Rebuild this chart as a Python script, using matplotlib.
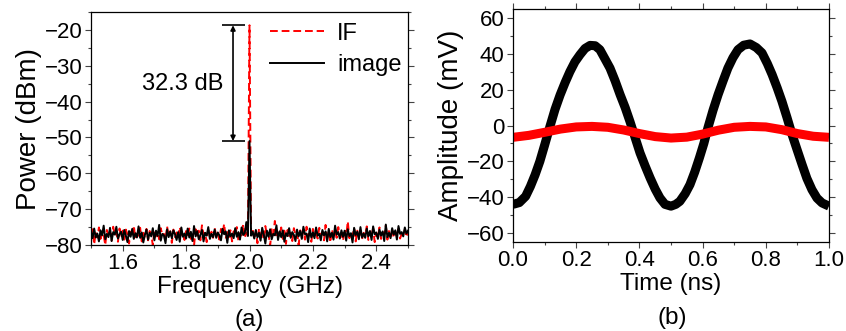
import numpy as np
import matplotlib
matplotlib.use("Agg")
import matplotlib.pyplot as plt
from matplotlib.ticker import MultipleLocator

plt.rcParams['font.family'] = ['Liberation Sans', 'DejaVu Sans']

# ---- (a) spectrum: 1.5-2.5 GHz, 5 MHz steps ----
freq_start, freq_stop = 1.5, 2.5
image_dbm = [
    -76.2, -78.1, -75.4, -77.9, -76.8, -79.0, -75.9, -77.3, -74.6, -78.4, -76.9, -77.8, -75.2, -78.9, -76.4, -77.1, -74.9, -78.2, -77.0, -76.3,
    -78.6, -75.8, -77.4, -79.2, -76.1, -77.7, -75.5, -78.3, -76.7, -77.9, -74.8, -78.0, -76.5, -79.3, -77.2, -75.7, -78.5, -76.6, -77.6, -75.3,
    -78.7, -76.0, -77.5, -74.4, -78.8, -76.9, -77.3, -79.5, -75.6, -77.8, -76.2, -78.1, -75.9, -77.0, -78.6, -76.4, -79.1, -75.1, -77.7, -76.8,
    -78.2, -75.4, -77.9, -76.3, -78.9, -74.7, -77.6, -76.1, -78.4, -77.2, -75.8, -79.0, -76.6, -77.4, -75.0, -78.3, -76.9, -77.8, -75.7, -78.0,
    -76.5, -77.3, -78.7, -75.5, -77.0, -76.2, -79.4, -75.9, -77.6, -76.8, -78.1, -75.3, -77.7, -76.4, -78.5, -75.1, -77.2, -76.7, -73.6, -77.5,
    -51.0,
    -77.4, -76.3, -78.2, -75.8, -77.9, -76.6, -78.8, -75.2, -77.1, -79.6, -76.0, -77.7, -75.6, -78.4, -76.9, -77.3, -74.5, -78.6, -76.2, -77.8,
    -75.9, -79.1, -76.7, -77.5, -75.3, -78.0, -76.4, -77.2, -78.9, -75.7, -77.6, -76.1, -78.3, -74.9, -77.0, -76.8, -79.2, -75.4, -77.9, -76.5,
    -78.1, -75.1, -77.4, -76.9, -78.7, -75.8, -77.3, -76.2, -79.0, -75.5, -77.8, -76.6, -78.5, -74.6, -77.1, -76.4, -78.2, -75.9, -77.7, -76.0,
    -78.8, -75.6, -77.5, -76.7, -79.3, -75.2, -77.2, -76.3, -78.4, -75.0, -77.9, -76.8, -78.0, -75.4, -77.6, -76.1, -78.6, -74.8, -77.0, -76.5,
    -78.3, -75.7, -77.4, -76.2, -78.9, -74.3, -77.8, -76.6, -78.1, -75.3, -77.1, -75.9, -78.5, -74.7, -76.9, -76.4, -77.6, -75.1, -76.8, -76.0,
]
if_dbm = [
    -77.5, -75.6, -79.8, -76.4, -77.9, -75.1, -78.3, -76.7, -77.2, -80.0, -75.8, -77.6, -76.2, -78.8, -74.9, -77.3, -76.5, -79.1, -75.4, -77.8,
    -76.0, -78.5, -75.7, -77.1, -79.6, -76.3, -77.7, -74.6, -78.2, -76.8, -77.4, -75.2, -79.0, -76.6, -77.9, -75.5, -78.7, -76.1, -77.0, -80.1,
    -75.9, -77.6, -76.4, -78.4, -75.3, -77.2, -76.9, -78.9, -74.8, -77.5, -76.2, -79.4, -75.7, -77.8, -76.5, -78.1, -75.0, -77.3, -76.7, -78.6,
    -76.1, -77.9, -75.4, -78.3, -76.8, -80.2, -75.6, -77.4, -76.0, -78.7, -74.5, -77.1, -76.6, -79.2, -75.8, -77.7, -76.3, -78.0, -75.2, -77.5,
    -76.9, -78.5, -75.5, -77.0, -74.1, -78.2, -76.4, -77.8, -75.9, -79.0, -76.2, -77.3, -75.0, -78.8, -76.7, -77.6, -74.3, -78.1, -76.5, -77.2,
    -18.7,
    -77.0, -75.7, -78.4, -76.3, -79.5, -75.4, -77.9, -76.1, -78.6, -74.7, -77.4, -76.8, -80.3, -75.6, -77.2, -73.3, -78.0, -76.5, -77.7, -75.1,
    -78.3, -76.0, -79.7, -75.8, -77.5, -76.6, -78.9, -75.3, -77.1, -76.4, -80.0, -75.9, -77.8, -76.2, -78.5, -74.9, -77.3, -76.7, -79.1, -75.5,
    -77.6, -76.9, -78.2, -75.2, -77.0, -76.3, -78.7, -74.4, -77.9, -76.5, -79.3, -75.7, -77.4, -76.1, -78.0, -75.0, -77.2, -76.8, -78.8, -75.6,
    -77.7, -73.4, -78.1, -76.4, -77.5, -75.3, -79.0, -76.0, -77.8, -75.9, -78.4, -76.6, -77.1, -74.8, -78.6, -76.2, -77.3, -75.4, -79.2, -76.7,
    -77.9, -75.1, -78.3, -76.5, -77.0, -74.6, -78.5, -76.1, -77.6, -75.8, -78.0, -76.3, -77.4, -75.5, -78.2, -76.9, -77.2, -75.7, -77.8, -76.4,
]
if_peak_dbm = -18.7
image_peak_dbm = -51.0
suppression_label = "32.3 dB"

# ---- (b) time-domain waveforms ----
image_t_ns = [0.0, 0.02, 0.04, 0.055, 0.07, 0.085, 0.1, 0.117, 0.133, 0.149,
              0.165, 0.18, 0.196, 0.212, 0.228, 0.244, 0.26, 0.275, 0.29, 0.307,
              0.323, 0.339, 0.355, 0.37, 0.386, 0.402, 0.418, 0.434, 0.45, 0.465,
              0.481, 0.5, 0.515, 0.528, 0.545, 0.56, 0.575, 0.59, 0.604, 0.617,
              0.633, 0.649, 0.665, 0.68, 0.696, 0.712, 0.73, 0.75, 0.77, 0.788,
              0.805, 0.82, 0.836, 0.851, 0.867, 0.883, 0.899, 0.915, 0.93, 0.946,
              0.962, 0.978, 1.0]
image_mv = [-44, -43, -39.5, -34, -27.5, -20, -11, -0.5, 9, 17,
            24, 30, 35.5, 39.5, 43, 44.7, 44.5, 42.3, 37.5, 32,
            25, 17.2, 10, 2.3, -6.5, -15.3, -22.5, -29.3, -35.5, -40.4,
            -44, -45, -44, -42.3, -38, -33, -26, -18, -10, -1.2,
            8.5, 17.2, 25, 32, 37.8, 42.3, 44.8, 45.5, 43.5, 40.5,
            34.5, 28.4, 21, 13.5, 4.5, -5, -13.5, -21.9, -29.5, -35.8,
            -40.5, -43.2, -45]
if_t_ns = [0.0, 0.05, 0.1, 0.15, 0.2, 0.25, 0.3, 0.35, 0.4, 0.45, 0.5,
           0.55, 0.6, 0.65, 0.7, 0.75, 0.8, 0.85, 0.9, 0.95, 1.0]
if_mv = [-6.6, -5.5, -3.8, -2.0, -0.8, -0.5, -1.0, -2.5, -4.5, -6.2, -7.0,
         -6.5, -4.8, -2.6, -1.0, -0.5, -0.8, -2.3, -4.5, -6.0, -6.6]

assert len(image_dbm) == len(if_dbm) == 201
assert len(image_t_ns) == len(image_mv) and len(if_t_ns) == len(if_mv)
freq = np.linspace(freq_start, freq_stop, len(image_dbm))

fig = plt.figure(figsize=(8.46, 3.31), dpi=100)
axa = fig.add_axes([91 / 846, 1 - 245 / 331, 317 / 846, 233 / 331])
axb = fig.add_axes([513 / 846, 1 - 242 / 331, 316 / 846, 233 / 331])

tick_fs = 16
xlab_fs = 17.5
ylab_fs = 20

axa.plot(freq, if_dbm, color='#ff0000', lw=1.4, ls=(0, (4, 2)), label='IF')
axa.plot(freq, image_dbm, color='black', lw=1.4, label='image')
axa.set_xlim(1.5, 2.5)
axa.set_ylim(-80, -15)
axa.xaxis.set_minor_locator(MultipleLocator(0.1))
axa.yaxis.set_minor_locator(MultipleLocator(5))
axa.set_xticks([1.6, 1.8, 2.0, 2.2, 2.4])
axa.set_yticks([-80, -70, -60, -50, -40, -30, -20])
axa.set_xlabel('Frequency (GHz)', fontsize=xlab_fs, labelpad=1)
axa.set_ylabel('Power (dBm)', fontsize=ylab_fs, labelpad=2)

# suppression marker between the IF and image peaks
x_lo, x_hi, x_arrow = 1.913, 1.985, 1.948
axa.hlines([if_peak_dbm, image_peak_dbm], x_lo, x_hi, color='black', lw=1.2)
axa.annotate('', xy=(x_arrow, if_peak_dbm), xytext=(x_arrow, image_peak_dbm),
             arrowprops=dict(arrowstyle='<|-|>', color='black', lw=1.2,
                             mutation_scale=7, shrinkA=0, shrinkB=0))
axa.text(1.79, -35, suppression_label, fontsize=17, ha='center', va='center')

axa.legend(loc='upper right', frameon=False, fontsize=17,
           handlelength=2.3, handletextpad=0.55, labelspacing=0.4,
           borderaxespad=0.0, bbox_to_anchor=(1.01, 0.995))

axb.plot(image_t_ns, image_mv, color='black', lw=6.5, solid_capstyle='butt',
         solid_joinstyle='round')
axb.plot(if_t_ns, if_mv, color='#ff0000', lw=6.5, solid_capstyle='butt',
         solid_joinstyle='round')
axb.set_xlim(0, 1.0)
axb.set_ylim(-65, 65)
axb.xaxis.set_major_locator(MultipleLocator(0.2))
axb.xaxis.set_minor_locator(MultipleLocator(0.1))
axb.yaxis.set_major_locator(MultipleLocator(20))
axb.yaxis.set_minor_locator(MultipleLocator(10))
axb.set_xlabel('Time (ns)', fontsize=xlab_fs, labelpad=1)
axb.set_ylabel('Amplitude (mV)', fontsize=ylab_fs, labelpad=2)

for ax in (axa, axb):
    ax.tick_params(which='both', direction='out', right=True, top=False,
                   labelsize=tick_fs, width=0.8, color='#444444')
    ax.tick_params(which='major', length=4, pad=2)
    ax.tick_params(which='minor', length=2.5)
    for s in ax.spines.values():
        s.set_linewidth(0.9)
axb.tick_params(which='both', top=True)

fig.text(249 / 846, 1 - 320 / 331, '(a)', fontsize=xlab_fs, ha='center', va='center')
fig.text(672 / 846, 1 - 318 / 331, '(b)', fontsize=xlab_fs, ha='center', va='center')

fig.savefig('out.png', dpi=100)
